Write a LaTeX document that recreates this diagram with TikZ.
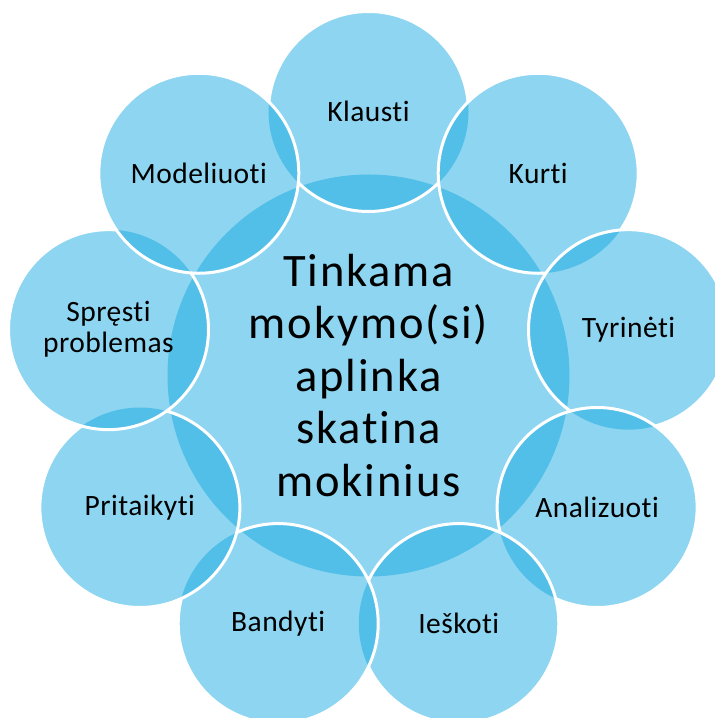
\documentclass[tikz,border=0pt]{standalone}
\usepackage{fontspec}
\setmainfont{Carlito}[Ligatures=NoCommon]
\newfontfamily\hubfont{Carlito}[Ligatures=NoCommon, LetterSpace=4]
\newfontfamily\satfont{Carlito}[Ligatures=NoCommon, LetterSpace=1.5]
\usetikzlibrary{calc}
\definecolor{satblue}{RGB}{18,168,224}
\tikzset{
  bubble/.style={circle, inner sep=0pt, fill=satblue, fill opacity=0.48, text opacity=1, text=black, align=center},
  sat/.style={bubble, minimum size=200pt, font=\satfont\fontsize{29.5pt}{31pt}\selectfont},
  hub/.style={bubble, minimum size=402pt, font=\hubfont\fontsize{46.5pt}{52.5pt}\selectfont},
  ring/.style={draw=white, line width=3pt},
}
\newcommand\outsideof[1]{\clip (0,0) rectangle (715pt,718pt) (#1.center) circle (100pt);}
\begin{document}
\begin{tikzpicture}
\useasboundingbox (0,0) rectangle (715pt,718pt);
\clip (0,0) rectangle (715pt,718pt);
\fill[white] (0,0) rectangle (715pt,718pt);
\coordinate (C) at (368.5pt,342.5pt);
\node[hub] (hub) at (C) {Tinkama\\mokymo(si)\\aplinka\\skatina\\mokinius};
\node[sat] (klausti)    at ($(C)+(90:264pt)$)   {Klausti};
\node[sat] (kurti)      at ($(C)+(50:264pt)$)   {Kurti};
\node[sat] (tyrineti)   at ($(C)+(10:264pt)$)   {Tyrinėti};
\node[sat] (analizuoti) at ($(C)+(-30:264pt)$)  {Analizuoti};
\node[sat] (ieskoti)    at ($(C)+(-70:264pt)$)  {Ieškoti};
\node[sat] (bandyti)    at ($(C)+(-110:264pt)$) {Bandyti};
\node[sat] (pritaikyti) at ($(C)+(-150:264pt)$) {Pritaikyti};
\node[sat] (spresti)    at ($(C)+(170:264pt)$)  {Spręsti\\problemas};
\node[sat] (modeliuoti) at ($(C)+(130:264pt)$)  {Modeliuoti};
% white outlines, each hidden where a later circle lies on it
\begin{scope}[even odd rule]\outsideof{kurti}\outsideof{modeliuoti}\draw[ring] (klausti.center) circle (100pt);\end{scope}
\begin{scope}[even odd rule]\outsideof{tyrineti}\draw[ring] (kurti.center) circle (100pt);\end{scope}
\begin{scope}[even odd rule]\outsideof{analizuoti}\draw[ring] (tyrineti.center) circle (100pt);\end{scope}
\begin{scope}[even odd rule]\outsideof{ieskoti}\draw[ring] (analizuoti.center) circle (100pt);\end{scope}
\begin{scope}[even odd rule]\outsideof{bandyti}\draw[ring] (ieskoti.center) circle (100pt);\end{scope}
\begin{scope}[even odd rule]\outsideof{pritaikyti}\draw[ring] (bandyti.center) circle (100pt);\end{scope}
\begin{scope}[even odd rule]\outsideof{spresti}\draw[ring] (pritaikyti.center) circle (100pt);\end{scope}
\begin{scope}[even odd rule]\outsideof{modeliuoti}\draw[ring] (spresti.center) circle (100pt);\end{scope}
\draw[ring] (modeliuoti.center) circle (100pt);
\end{tikzpicture}
\end{document}
